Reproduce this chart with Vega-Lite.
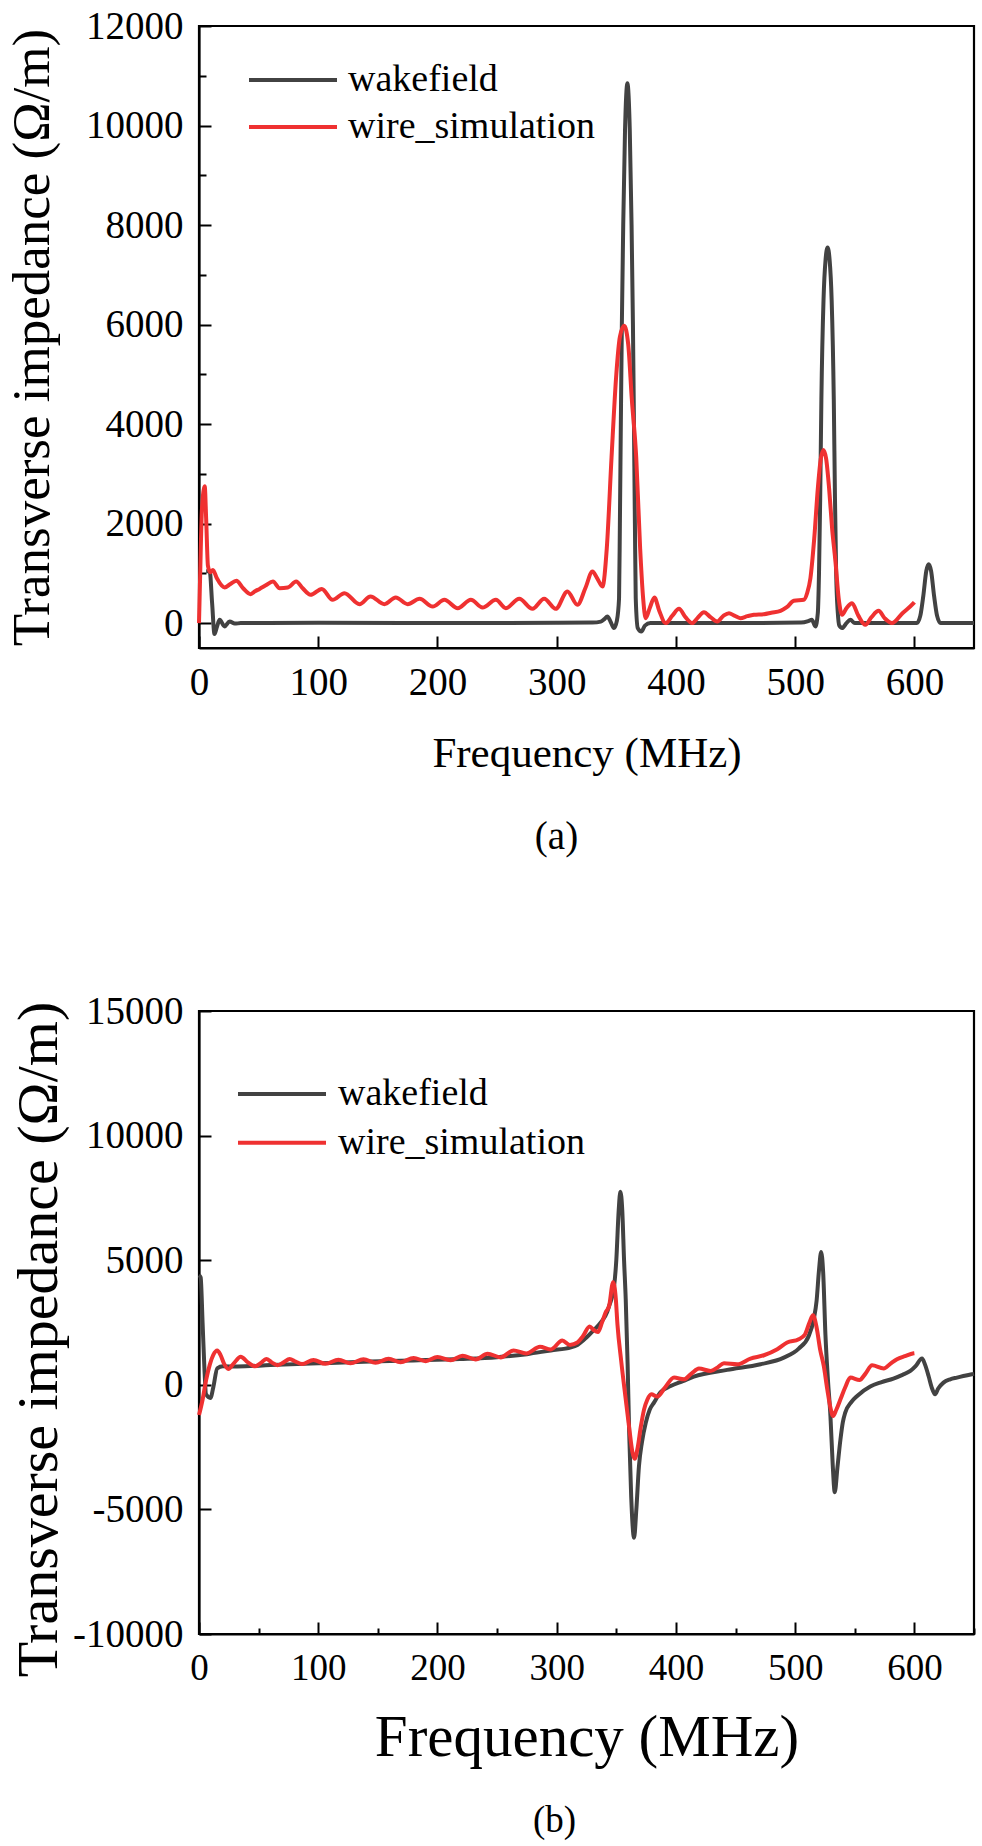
{
  "$schema": "https://vega.github.io/schema/vega-lite/v6.json",
  "background": "white",
  "padding": {"left": 5, "top": 5, "right": 5, "bottom": 0},
  "bounds": "flush",
  "spacing": 363,
  "resolve": {"scale": {"color": "independent"}, "legend": {"color": "independent"}},
  "config": {
    "font": "Liberation Serif",
    "view": {"stroke": "black", "strokeWidth": 2.2},
    "axis": {
      "grid": false,
      "domainColor": "black",
      "domainWidth": 2.2,
      "tickColor": "black",
      "tickWidth": 2,
      "labelColor": "black",
      "titleColor": "black",
      "titleFontWeight": "normal",
      "labelFont": "Liberation Serif",
      "titleFont": "Liberation Serif",
      "labelFlush": false,
      "labelOverlap": false
    },
    "title": {"font": "Liberation Serif", "fontWeight": "normal", "color": "black"},
    "line": {"strokeWidth": 4, "interpolate": "monotone"}
  },
  "datasets": {
    "a": [
      {"f": 6, "z": 1040, "s": "wakefield"},
      {"f": 9, "z": 1040, "s": "wakefield"},
      {"f": 11, "z": 400, "s": "wakefield"},
      {"f": 13, "z": -220, "s": "wakefield"},
      {"f": 15, "z": -80, "s": "wakefield"},
      {"f": 17.3, "z": 66, "s": "wakefield"},
      {"f": 21.5, "z": -66, "s": "wakefield"},
      {"f": 25.7, "z": 33, "s": "wakefield"},
      {"f": 30, "z": -10, "s": "wakefield"},
      {"f": 35, "z": 0, "s": "wakefield"},
      {"f": 100, "z": 5, "s": "wakefield"},
      {"f": 200, "z": 0, "s": "wakefield"},
      {"f": 300, "z": 5, "s": "wakefield"},
      {"f": 330, "z": 10, "s": "wakefield"},
      {"f": 337, "z": 30, "s": "wakefield"},
      {"f": 340, "z": 80, "s": "wakefield"},
      {"f": 342.5, "z": 134, "s": "wakefield"},
      {"f": 345, "z": 40, "s": "wakefield"},
      {"f": 348, "z": -100, "s": "wakefield"},
      {"f": 350.5, "z": 50, "s": "wakefield"},
      {"f": 352.3, "z": 500, "s": "wakefield"},
      {"f": 353, "z": 2000, "s": "wakefield"},
      {"f": 353.8, "z": 4000, "s": "wakefield"},
      {"f": 354.65, "z": 6000, "s": "wakefield"},
      {"f": 355.8, "z": 8000, "s": "wakefield"},
      {"f": 357.3, "z": 9900, "s": "wakefield"},
      {"f": 358.3, "z": 10600, "s": "wakefield"},
      {"f": 359.3, "z": 10850, "s": "wakefield"},
      {"f": 360.3, "z": 10600, "s": "wakefield"},
      {"f": 361.3, "z": 9900, "s": "wakefield"},
      {"f": 362.8, "z": 8000, "s": "wakefield"},
      {"f": 363.95, "z": 6000, "s": "wakefield"},
      {"f": 364.8, "z": 4000, "s": "wakefield"},
      {"f": 365.6, "z": 2000, "s": "wakefield"},
      {"f": 366.3, "z": 500, "s": "wakefield"},
      {"f": 368, "z": -100, "s": "wakefield"},
      {"f": 371, "z": -170, "s": "wakefield"},
      {"f": 374, "z": -50, "s": "wakefield"},
      {"f": 378.6, "z": 0, "s": "wakefield"},
      {"f": 450, "z": 0, "s": "wakefield"},
      {"f": 505, "z": 10, "s": "wakefield"},
      {"f": 511, "z": 40, "s": "wakefield"},
      {"f": 514, "z": 67, "s": "wakefield"},
      {"f": 517, "z": -66, "s": "wakefield"},
      {"f": 519, "z": 200, "s": "wakefield"},
      {"f": 520, "z": 1000, "s": "wakefield"},
      {"f": 521, "z": 2500, "s": "wakefield"},
      {"f": 522, "z": 4500, "s": "wakefield"},
      {"f": 523.8, "z": 6500, "s": "wakefield"},
      {"f": 525.5, "z": 7300, "s": "wakefield"},
      {"f": 527.2, "z": 7547, "s": "wakefield"},
      {"f": 528.9, "z": 7300, "s": "wakefield"},
      {"f": 530.6, "z": 6500, "s": "wakefield"},
      {"f": 532.4, "z": 4500, "s": "wakefield"},
      {"f": 533.4, "z": 2500, "s": "wakefield"},
      {"f": 534.4, "z": 1000, "s": "wakefield"},
      {"f": 535.8, "z": 200, "s": "wakefield"},
      {"f": 537, "z": -50, "s": "wakefield"},
      {"f": 539.4, "z": -100, "s": "wakefield"},
      {"f": 543, "z": 0, "s": "wakefield"},
      {"f": 546.3, "z": 67, "s": "wakefield"},
      {"f": 550, "z": 0, "s": "wakefield"},
      {"f": 602, "z": 0, "s": "wakefield"},
      {"f": 605, "z": 150, "s": "wakefield"},
      {"f": 607.5, "z": 550, "s": "wakefield"},
      {"f": 610, "z": 1050, "s": "wakefield"},
      {"f": 612, "z": 1184, "s": "wakefield"},
      {"f": 614, "z": 1050, "s": "wakefield"},
      {"f": 616.5, "z": 550, "s": "wakefield"},
      {"f": 619, "z": 150, "s": "wakefield"},
      {"f": 622, "z": 0, "s": "wakefield"},
      {"f": 650, "z": 0, "s": "wakefield"},
      {"f": 0, "z": 0, "s": "wire_simulation"},
      {"f": 1, "z": 1000, "s": "wire_simulation"},
      {"f": 2.5, "z": 2300, "s": "wire_simulation"},
      {"f": 4.8, "z": 2750, "s": "wire_simulation"},
      {"f": 6, "z": 2100, "s": "wire_simulation"},
      {"f": 7.5, "z": 1150, "s": "wire_simulation"},
      {"f": 9.5, "z": 1020, "s": "wire_simulation"},
      {"f": 11.7, "z": 1070, "s": "wire_simulation"},
      {"f": 15, "z": 900, "s": "wire_simulation"},
      {"f": 21.5, "z": 716, "s": "wire_simulation"},
      {"f": 26, "z": 780, "s": "wire_simulation"},
      {"f": 31.3, "z": 850, "s": "wire_simulation"},
      {"f": 37, "z": 700, "s": "wire_simulation"},
      {"f": 43.3, "z": 582, "s": "wire_simulation"},
      {"f": 47, "z": 640, "s": "wire_simulation"},
      {"f": 50.8, "z": 688, "s": "wire_simulation"},
      {"f": 56, "z": 760, "s": "wire_simulation"},
      {"f": 62, "z": 836, "s": "wire_simulation"},
      {"f": 67.6, "z": 702, "s": "wire_simulation"},
      {"f": 74.5, "z": 716, "s": "wire_simulation"},
      {"f": 81.5, "z": 836, "s": "wire_simulation"},
      {"f": 87, "z": 700, "s": "wire_simulation"},
      {"f": 93.5, "z": 569, "s": "wire_simulation"},
      {"f": 103, "z": 688, "s": "wire_simulation"},
      {"f": 112, "z": 468, "s": "wire_simulation"},
      {"f": 122, "z": 602, "s": "wire_simulation"},
      {"f": 134.6, "z": 381, "s": "wire_simulation"},
      {"f": 143.8, "z": 535, "s": "wire_simulation"},
      {"f": 155.5, "z": 381, "s": "wire_simulation"},
      {"f": 165, "z": 515, "s": "wire_simulation"},
      {"f": 175, "z": 381, "s": "wire_simulation"},
      {"f": 185, "z": 488, "s": "wire_simulation"},
      {"f": 196, "z": 334, "s": "wire_simulation"},
      {"f": 205.8, "z": 468, "s": "wire_simulation"},
      {"f": 217, "z": 301, "s": "wire_simulation"},
      {"f": 228, "z": 468, "s": "wire_simulation"},
      {"f": 237.8, "z": 314, "s": "wire_simulation"},
      {"f": 249, "z": 468, "s": "wire_simulation"},
      {"f": 257.4, "z": 301, "s": "wire_simulation"},
      {"f": 268.6, "z": 488, "s": "wire_simulation"},
      {"f": 279.7, "z": 287, "s": "wire_simulation"},
      {"f": 289.5, "z": 488, "s": "wire_simulation"},
      {"f": 299.2, "z": 287, "s": "wire_simulation"},
      {"f": 309, "z": 636, "s": "wire_simulation"},
      {"f": 317.4, "z": 367, "s": "wire_simulation"},
      {"f": 324, "z": 700, "s": "wire_simulation"},
      {"f": 330, "z": 1037, "s": "wire_simulation"},
      {"f": 334, "z": 900, "s": "wire_simulation"},
      {"f": 338.4, "z": 736, "s": "wire_simulation"},
      {"f": 342, "z": 1500, "s": "wire_simulation"},
      {"f": 346, "z": 3330, "s": "wire_simulation"},
      {"f": 350, "z": 5000, "s": "wire_simulation"},
      {"f": 353, "z": 5750, "s": "wire_simulation"},
      {"f": 356.6, "z": 5975, "s": "wire_simulation"},
      {"f": 360, "z": 5600, "s": "wire_simulation"},
      {"f": 363, "z": 4500, "s": "wire_simulation"},
      {"f": 366.7, "z": 3330, "s": "wire_simulation"},
      {"f": 370, "z": 1500, "s": "wire_simulation"},
      {"f": 372.5, "z": 500, "s": "wire_simulation"},
      {"f": 374.6, "z": 100, "s": "wire_simulation"},
      {"f": 378, "z": 300, "s": "wire_simulation"},
      {"f": 382, "z": 515, "s": "wire_simulation"},
      {"f": 386, "z": 250, "s": "wire_simulation"},
      {"f": 391.4, "z": 0, "s": "wire_simulation"},
      {"f": 397, "z": 150, "s": "wire_simulation"},
      {"f": 402.6, "z": 287, "s": "wire_simulation"},
      {"f": 408, "z": 120, "s": "wire_simulation"},
      {"f": 413.7, "z": 0, "s": "wire_simulation"},
      {"f": 418, "z": 100, "s": "wire_simulation"},
      {"f": 423.5, "z": 220, "s": "wire_simulation"},
      {"f": 429, "z": 120, "s": "wire_simulation"},
      {"f": 434.7, "z": 33, "s": "wire_simulation"},
      {"f": 440, "z": 150, "s": "wire_simulation"},
      {"f": 444.5, "z": 200, "s": "wire_simulation"},
      {"f": 449, "z": 150, "s": "wire_simulation"},
      {"f": 454, "z": 100, "s": "wire_simulation"},
      {"f": 460, "z": 140, "s": "wire_simulation"},
      {"f": 465.4, "z": 167, "s": "wire_simulation"},
      {"f": 473.8, "z": 180, "s": "wire_simulation"},
      {"f": 480, "z": 210, "s": "wire_simulation"},
      {"f": 487.7, "z": 247, "s": "wire_simulation"},
      {"f": 493, "z": 320, "s": "wire_simulation"},
      {"f": 498.9, "z": 448, "s": "wire_simulation"},
      {"f": 507.3, "z": 468, "s": "wire_simulation"},
      {"f": 510, "z": 600, "s": "wire_simulation"},
      {"f": 512.8, "z": 903, "s": "wire_simulation"},
      {"f": 516, "z": 1700, "s": "wire_simulation"},
      {"f": 519, "z": 2700, "s": "wire_simulation"},
      {"f": 521.5, "z": 3300, "s": "wire_simulation"},
      {"f": 523.7, "z": 3478, "s": "wire_simulation"},
      {"f": 526, "z": 3300, "s": "wire_simulation"},
      {"f": 528.5, "z": 2700, "s": "wire_simulation"},
      {"f": 531, "z": 1900, "s": "wire_simulation"},
      {"f": 533.8, "z": 1238, "s": "wire_simulation"},
      {"f": 536.5, "z": 500, "s": "wire_simulation"},
      {"f": 539.4, "z": 167, "s": "wire_simulation"},
      {"f": 543, "z": 300, "s": "wire_simulation"},
      {"f": 547.7, "z": 401, "s": "wire_simulation"},
      {"f": 553, "z": 150, "s": "wire_simulation"},
      {"f": 558.9, "z": -33, "s": "wire_simulation"},
      {"f": 564, "z": 120, "s": "wire_simulation"},
      {"f": 570, "z": 247, "s": "wire_simulation"},
      {"f": 575, "z": 100, "s": "wire_simulation"},
      {"f": 581.2, "z": 0, "s": "wire_simulation"},
      {"f": 590, "z": 200, "s": "wire_simulation"},
      {"f": 599.3, "z": 401, "s": "wire_simulation"},
      {"f": 600, "z": 420, "s": "wire_simulation"}
    ],
    "b": [
      {"f": 0, "z": 4400, "s": "wakefield"},
      {"f": 1.4, "z": 4305, "s": "wakefield"},
      {"f": 3, "z": 2500, "s": "wakefield"},
      {"f": 4.5, "z": 700, "s": "wakefield"},
      {"f": 5.9, "z": -382, "s": "wakefield"},
      {"f": 9.6, "z": -527, "s": "wakefield"},
      {"f": 12, "z": -100, "s": "wakefield"},
      {"f": 15.3, "z": 663, "s": "wakefield"},
      {"f": 20, "z": 740, "s": "wakefield"},
      {"f": 32, "z": 735, "s": "wakefield"},
      {"f": 60, "z": 790, "s": "wakefield"},
      {"f": 100, "z": 860, "s": "wakefield"},
      {"f": 144, "z": 933, "s": "wakefield"},
      {"f": 180, "z": 980, "s": "wakefield"},
      {"f": 219, "z": 1037, "s": "wakefield"},
      {"f": 250, "z": 1110, "s": "wakefield"},
      {"f": 275, "z": 1230, "s": "wakefield"},
      {"f": 295, "z": 1380, "s": "wakefield"},
      {"f": 312, "z": 1500, "s": "wakefield"},
      {"f": 317.4, "z": 1600, "s": "wakefield"},
      {"f": 325, "z": 1900, "s": "wakefield"},
      {"f": 331, "z": 2190, "s": "wakefield"},
      {"f": 337, "z": 2500, "s": "wakefield"},
      {"f": 342.4, "z": 2933, "s": "wakefield"},
      {"f": 344, "z": 3167, "s": "wakefield"},
      {"f": 346, "z": 3450, "s": "wakefield"},
      {"f": 348, "z": 3900, "s": "wakefield"},
      {"f": 350, "z": 5000, "s": "wakefield"},
      {"f": 352, "z": 7000, "s": "wakefield"},
      {"f": 353.4, "z": 7748, "s": "wakefield"},
      {"f": 355, "z": 7000, "s": "wakefield"},
      {"f": 356.5, "z": 5000, "s": "wakefield"},
      {"f": 357.9, "z": 3436, "s": "wakefield"},
      {"f": 359.5, "z": 800, "s": "wakefield"},
      {"f": 360.8, "z": -1921, "s": "wakefield"},
      {"f": 362.5, "z": -4500, "s": "wakefield"},
      {"f": 364.9, "z": -6141, "s": "wakefield"},
      {"f": 366.8, "z": -5000, "s": "wakefield"},
      {"f": 369, "z": -3263, "s": "wakefield"},
      {"f": 371.5, "z": -2300, "s": "wakefield"},
      {"f": 374.7, "z": -1520, "s": "wakefield"},
      {"f": 378, "z": -1000, "s": "wakefield"},
      {"f": 381.6, "z": -716, "s": "wakefield"},
      {"f": 387, "z": -300, "s": "wakefield"},
      {"f": 395.6, "z": -50, "s": "wakefield"},
      {"f": 405.8, "z": 150, "s": "wakefield"},
      {"f": 415, "z": 330, "s": "wakefield"},
      {"f": 443, "z": 600, "s": "wakefield"},
      {"f": 471, "z": 824, "s": "wakefield"},
      {"f": 490.5, "z": 1092, "s": "wakefield"},
      {"f": 503, "z": 1455, "s": "wakefield"},
      {"f": 511.4, "z": 1962, "s": "wakefield"},
      {"f": 515.6, "z": 2632, "s": "wakefield"},
      {"f": 518, "z": 3378, "s": "wakefield"},
      {"f": 520, "z": 4600, "s": "wakefield"},
      {"f": 521.8, "z": 5333, "s": "wakefield"},
      {"f": 523.5, "z": 4500, "s": "wakefield"},
      {"f": 525.4, "z": 2000, "s": "wakefield"},
      {"f": 527.5, "z": 200, "s": "wakefield"},
      {"f": 529.6, "z": -1254, "s": "wakefield"},
      {"f": 531.5, "z": -3200, "s": "wakefield"},
      {"f": 533.2, "z": -4308, "s": "wakefield"},
      {"f": 535.5, "z": -3300, "s": "wakefield"},
      {"f": 538, "z": -2190, "s": "wakefield"},
      {"f": 540, "z": -1500, "s": "wakefield"},
      {"f": 542, "z": -1117, "s": "wakefield"},
      {"f": 547, "z": -700, "s": "wakefield"},
      {"f": 552, "z": -450, "s": "wakefield"},
      {"f": 563, "z": -72, "s": "wakefield"},
      {"f": 572, "z": 100, "s": "wakefield"},
      {"f": 582.4, "z": 249, "s": "wakefield"},
      {"f": 590, "z": 400, "s": "wakefield"},
      {"f": 596.6, "z": 555, "s": "wakefield"},
      {"f": 601, "z": 750, "s": "wakefield"},
      {"f": 606.4, "z": 1053, "s": "wakefield"},
      {"f": 609, "z": 800, "s": "wakefield"},
      {"f": 611.9, "z": 354, "s": "wakefield"},
      {"f": 614.5, "z": -100, "s": "wakefield"},
      {"f": 617.4, "z": -382, "s": "wakefield"},
      {"f": 620, "z": -150, "s": "wakefield"},
      {"f": 624.4, "z": 88, "s": "wakefield"},
      {"f": 630, "z": 220, "s": "wakefield"},
      {"f": 635.7, "z": 289, "s": "wakefield"},
      {"f": 648.2, "z": 422, "s": "wakefield"},
      {"f": 650, "z": 440, "s": "wakefield"},
      {"f": 0, "z": -1215, "s": "wire_simulation"},
      {"f": 3, "z": -600, "s": "wire_simulation"},
      {"f": 6, "z": 200, "s": "wire_simulation"},
      {"f": 9, "z": 800, "s": "wire_simulation"},
      {"f": 12, "z": 1200, "s": "wire_simulation"},
      {"f": 15.3, "z": 1378, "s": "wire_simulation"},
      {"f": 18, "z": 1200, "s": "wire_simulation"},
      {"f": 21, "z": 850, "s": "wire_simulation"},
      {"f": 24.6, "z": 637, "s": "wire_simulation"},
      {"f": 29, "z": 850, "s": "wire_simulation"},
      {"f": 35, "z": 1126, "s": "wire_simulation"},
      {"f": 41, "z": 900, "s": "wire_simulation"},
      {"f": 47, "z": 741, "s": "wire_simulation"},
      {"f": 52, "z": 880, "s": "wire_simulation"},
      {"f": 56.4, "z": 1037, "s": "wire_simulation"},
      {"f": 61, "z": 900, "s": "wire_simulation"},
      {"f": 65.7, "z": 785, "s": "wire_simulation"},
      {"f": 71, "z": 900, "s": "wire_simulation"},
      {"f": 76, "z": 1037, "s": "wire_simulation"},
      {"f": 81, "z": 930, "s": "wire_simulation"},
      {"f": 86.4, "z": 830, "s": "wire_simulation"},
      {"f": 96, "z": 1000, "s": "wire_simulation"},
      {"f": 106, "z": 840, "s": "wire_simulation"},
      {"f": 117, "z": 1010, "s": "wire_simulation"},
      {"f": 127, "z": 860, "s": "wire_simulation"},
      {"f": 138, "z": 1030, "s": "wire_simulation"},
      {"f": 148, "z": 880, "s": "wire_simulation"},
      {"f": 159, "z": 1050, "s": "wire_simulation"},
      {"f": 169, "z": 900, "s": "wire_simulation"},
      {"f": 180, "z": 1080, "s": "wire_simulation"},
      {"f": 190, "z": 950, "s": "wire_simulation"},
      {"f": 200, "z": 1120, "s": "wire_simulation"},
      {"f": 211, "z": 990, "s": "wire_simulation"},
      {"f": 221, "z": 1170, "s": "wire_simulation"},
      {"f": 232, "z": 1020, "s": "wire_simulation"},
      {"f": 242, "z": 1250, "s": "wire_simulation"},
      {"f": 253, "z": 1100, "s": "wire_simulation"},
      {"f": 263.8, "z": 1378, "s": "wire_simulation"},
      {"f": 274.5, "z": 1260, "s": "wire_simulation"},
      {"f": 286, "z": 1526, "s": "wire_simulation"},
      {"f": 295, "z": 1420, "s": "wire_simulation"},
      {"f": 304.7, "z": 1778, "s": "wire_simulation"},
      {"f": 311, "z": 1600, "s": "wire_simulation"},
      {"f": 317.4, "z": 1696, "s": "wire_simulation"},
      {"f": 322, "z": 1950, "s": "wire_simulation"},
      {"f": 327.6, "z": 2340, "s": "wire_simulation"},
      {"f": 331, "z": 2200, "s": "wire_simulation"},
      {"f": 334.6, "z": 2118, "s": "wire_simulation"},
      {"f": 338, "z": 2500, "s": "wire_simulation"},
      {"f": 341, "z": 2900, "s": "wire_simulation"},
      {"f": 344, "z": 3167, "s": "wire_simulation"},
      {"f": 347.3, "z": 4119, "s": "wire_simulation"},
      {"f": 349.5, "z": 3500, "s": "wire_simulation"},
      {"f": 351, "z": 2400, "s": "wire_simulation"},
      {"f": 354, "z": 1000, "s": "wire_simulation"},
      {"f": 357.9, "z": -583, "s": "wire_simulation"},
      {"f": 361, "z": -1800, "s": "wire_simulation"},
      {"f": 363.5, "z": -2700, "s": "wire_simulation"},
      {"f": 365.4, "z": -2966, "s": "wire_simulation"},
      {"f": 368, "z": -2500, "s": "wire_simulation"},
      {"f": 370.5, "z": -1700, "s": "wire_simulation"},
      {"f": 373.3, "z": -985, "s": "wire_simulation"},
      {"f": 376, "z": -600, "s": "wire_simulation"},
      {"f": 379.4, "z": -382, "s": "wire_simulation"},
      {"f": 384.4, "z": -474, "s": "wire_simulation"},
      {"f": 391, "z": -100, "s": "wire_simulation"},
      {"f": 398.4, "z": 289, "s": "wire_simulation"},
      {"f": 406.8, "z": 221, "s": "wire_simulation"},
      {"f": 413, "z": 450, "s": "wire_simulation"},
      {"f": 419.3, "z": 651, "s": "wire_simulation"},
      {"f": 429, "z": 555, "s": "wire_simulation"},
      {"f": 435, "z": 700, "s": "wire_simulation"},
      {"f": 440.3, "z": 864, "s": "wire_simulation"},
      {"f": 451.4, "z": 824, "s": "wire_simulation"},
      {"f": 462.6, "z": 1053, "s": "wire_simulation"},
      {"f": 473.8, "z": 1186, "s": "wire_simulation"},
      {"f": 485, "z": 1427, "s": "wire_simulation"},
      {"f": 493.3, "z": 1696, "s": "wire_simulation"},
      {"f": 503, "z": 1829, "s": "wire_simulation"},
      {"f": 508, "z": 2000, "s": "wire_simulation"},
      {"f": 512, "z": 2500, "s": "wire_simulation"},
      {"f": 515, "z": 2793, "s": "wire_simulation"},
      {"f": 518, "z": 2300, "s": "wire_simulation"},
      {"f": 521, "z": 1400, "s": "wire_simulation"},
      {"f": 524, "z": 756, "s": "wire_simulation"},
      {"f": 527, "z": -200, "s": "wire_simulation"},
      {"f": 529.5, "z": -900, "s": "wire_simulation"},
      {"f": 531.8, "z": -1254, "s": "wire_simulation"},
      {"f": 534.5, "z": -1000, "s": "wire_simulation"},
      {"f": 538, "z": -583, "s": "wire_simulation"},
      {"f": 542, "z": -100, "s": "wire_simulation"},
      {"f": 546.3, "z": 289, "s": "wire_simulation"},
      {"f": 554, "z": 193, "s": "wire_simulation"},
      {"f": 559, "z": 450, "s": "wire_simulation"},
      {"f": 564.5, "z": 784, "s": "wire_simulation"},
      {"f": 574.3, "z": 651, "s": "wire_simulation"},
      {"f": 580, "z": 850, "s": "wire_simulation"},
      {"f": 585.4, "z": 1025, "s": "wire_simulation"},
      {"f": 592, "z": 1150, "s": "wire_simulation"},
      {"f": 599.4, "z": 1266, "s": "wire_simulation"},
      {"f": 600, "z": 1270, "s": "wire_simulation"}
    ]
  },
  "vconcat": [
    {
      "width": 775,
      "height": 622,
      "data": {"name": "a"},
      "title": {"text": "(a)", "orient": "bottom", "fontSize": 39, "offset": 43, "dx": -30},
      "encoding": {
        "x": {
          "field": "f",
          "type": "quantitative",
          "scale": {"domain": [0, 650], "nice": false, "zero": false},
          "axis": {
            "values": [0, 100, 200, 300, 400, 500, 600],
            "tickSize": -12,
            "labelPadding": 27,
            "labelFontSize": 39,
            "title": "Frequency (MHz)",
            "titleFontSize": 43,
            "titlePadding": 30
          }
        }
      },
      "layer": [
        {
          "transform": [{"filter": "datum.s == 'wakefield'"}],
          "mark": "line",
          "encoding": {
            "y": {
              "field": "z",
              "type": "quantitative",
              "scale": {"domain": [-500, 12000], "nice": false, "zero": false},
              "axis": {
                "values": [0, 2000, 4000, 6000, 8000, 10000, 12000],
                "format": "d",
                "tickSize": -12,
                "labelPadding": 28,
                "labelFontSize": 39,
                "title": "Transverse impedance (Ω/m)",
                "titleFontSize": 53,
                "titlePadding": 26
              }
            },
            "color": {
              "field": "s",
              "type": "nominal",
              "scale": {"domain": ["wakefield", "wire_simulation"], "range": ["#424242", "#ef3131"]},
              "legend": {
                "orient": "none",
                "legendX": 48,
                "legendY": 34,
                "title": null,
                "symbolType": "stroke",
                "symbolSize": 7744,
                "symbolStrokeWidth": 4,
                "labelFontSize": 38,
                "labelFont": "Liberation Serif",
                "labelColor": "black",
                "labelLimit": 0,
                "labelOffset": 9,
                "clipHeight": 40,
                "rowPadding": 7,
                "padding": 0
              }
            }
          }
        },
        {
          "transform": [{"filter": "datum.s == 'wire_simulation'"}],
          "mark": "line",
          "encoding": {
            "y": {
              "field": "z",
              "type": "quantitative",
              "scale": {"domain": [-500, 12000], "nice": false, "zero": false},
              "axis": null
            },
            "color": {
              "field": "s",
              "type": "nominal",
              "scale": {"domain": ["wakefield", "wire_simulation"], "range": ["#424242", "#ef3131"]}
            }
          }
        },
        {
          "mark": {"type": "point", "opacity": 0},
          "encoding": {
            "y": {
              "field": "z",
              "type": "quantitative",
              "scale": {"domain": [-500, 12000], "nice": false, "zero": false},
              "axis": {
                "orient": "left",
                "values": [1000, 3000, 5000, 7000, 9000, 11000],
                "tickSize": -7,
                "labels": false,
                "domain": false,
                "title": null
              }
            }
          }
        }
      ],
      "resolve": {"axis": {"y": "independent"}}
    },
    {
      "width": 775,
      "height": 623,
      "data": {"name": "b"},
      "title": {"text": "(b)", "orient": "bottom", "fontSize": 37, "offset": 36, "dx": -32},
      "encoding": {
        "y": {
          "field": "z",
          "type": "quantitative",
          "scale": {"domain": [-10000, 15000], "nice": false, "zero": false},
          "axis": {
            "values": [-10000, -5000, 0, 5000, 10000, 15000],
            "labelExpr": "'' + datum.value",
            "tickSize": -12,
            "labelPadding": 28,
            "labelFontSize": 39,
            "title": "Transverse impedance (Ω/m)",
            "titleFontSize": 58,
            "titlePadding": 4,
            "titleY": 328
          }
        }
      },
      "layer": [
        {
          "transform": [{"filter": "datum.s == 'wakefield'"}],
          "mark": "line",
          "encoding": {
            "x": {
              "field": "f",
              "type": "quantitative",
              "scale": {"domain": [0, 650], "nice": false, "zero": false},
              "axis": {
                "values": [0, 100, 200, 300, 400, 500, 600],
                "tickSize": -12,
                "labelPadding": 28,
                "labelFontSize": 37,
                "title": "Frequency (MHz)",
                "titleFontSize": 59,
                "titlePadding": 22
              }
            },
            "color": {
              "field": "s",
              "type": "nominal",
              "scale": {"domain": ["wakefield", "wire_simulation"], "range": ["#424242", "#ef3131"]},
              "legend": {
                "orient": "none",
                "legendX": 37,
                "legendY": 63,
                "title": null,
                "symbolType": "stroke",
                "symbolSize": 7744,
                "symbolStrokeWidth": 4,
                "labelFontSize": 38,
                "labelFont": "Liberation Serif",
                "labelColor": "black",
                "labelLimit": 0,
                "labelOffset": 10,
                "clipHeight": 40,
                "rowPadding": 8.7,
                "padding": 0
              }
            }
          }
        },
        {
          "transform": [{"filter": "datum.s == 'wire_simulation'"}],
          "mark": "line",
          "encoding": {
            "x": {
              "field": "f",
              "type": "quantitative",
              "scale": {"domain": [0, 650], "nice": false, "zero": false},
              "axis": null
            },
            "color": {
              "field": "s",
              "type": "nominal",
              "scale": {"domain": ["wakefield", "wire_simulation"], "range": ["#424242", "#ef3131"]}
            }
          }
        },
        {
          "mark": {"type": "point", "opacity": 0},
          "encoding": {
            "x": {
              "field": "f",
              "type": "quantitative",
              "scale": {"domain": [0, 650], "nice": false, "zero": false},
              "axis": {
                "orient": "bottom",
                "values": [50, 150, 250, 350, 450, 550, 650],
                "tickSize": -6,
                "labels": false,
                "domain": false,
                "title": null
              }
            }
          }
        }
      ],
      "resolve": {"axis": {"x": "independent"}}
    }
  ]
}
